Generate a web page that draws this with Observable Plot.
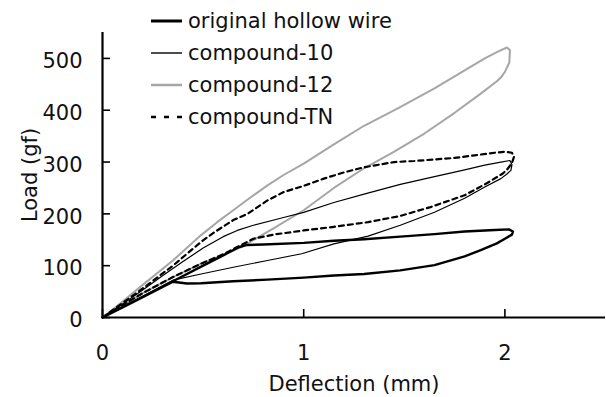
<!DOCTYPE html>
<html><head><meta charset="utf-8">
<script src="https://cdn.jsdelivr.net/npm/d3@7"></script>
<script src="https://cdn.jsdelivr.net/npm/@observablehq/plot@0.6"></script>
<style>
body{margin:0;background:#fff;}
#wrap{position:relative;width:606px;height:397px;font-family:"DejaVu Sans",sans-serif;background:#fff;}
#legend{position:absolute;left:151px;top:5px;}
.row{display:flex;align-items:center;height:32px;}
.row svg{display:block;}
.row span{margin-left:6px;font-size:21px;color:#111;white-space:nowrap;}
</style></head><body>
<div id="wrap"><div id="chart"></div><div id="legend"></div></div>
<script>
const seriesNames = ["original hollow wire", "compound-10", "compound-12", "compound-TN"];
const xTicks = [0, 1, 2];
const yTicks = [0, 100, 200, 300, 400, 500];
const xLabel = "Deflection (mm)";
const yLabel = "Load (gf)";

// loading path followed by unloading path (loop)
const originalX = [0, 0.1, 0.2, 0.35, 0.5, 0.6, 0.68, 0.72, 0.8, 1.0, 1.15, 1.3, 1.48, 1.65, 1.8, 1.95, 2.02, 2.04, 2.035, 2.0, 1.96, 1.88, 1.8, 1.65, 1.48, 1.3, 1.15, 1.0, 0.82, 0.65, 0.49, 0.42, 0.35, 0.2, 0.1, 0];
const originalY = [0, 20, 40, 70, 100, 120, 136, 140, 141, 144, 148, 151, 156, 161, 166, 169, 170, 166, 160, 152, 143, 130, 118, 101, 91, 84, 81, 77, 73, 70, 66, 65.5, 69, 39, 19.5, 0];

const compound10X = [0, 0.1, 0.2, 0.3, 0.4, 0.5, 0.6, 0.67, 0.75, 0.9, 1.0, 1.15, 1.3, 1.48, 1.65, 1.8, 1.9, 1.98, 2.025, 2.035, 2.03, 2.01, 1.98, 1.9, 1.8, 1.65, 1.48, 1.32, 1.15, 0.99, 0.82, 0.65, 0.49, 0.35, 0.2, 0.1, 0];
const compound10Y = [0, 26, 53, 81, 108, 134, 156, 168, 178, 193, 203, 222, 238, 257, 272, 285, 294, 300, 303, 295, 284, 277, 268, 252, 230, 203, 178, 157, 142, 123, 110, 97, 84, 72, 41, 20, 0];

const compound12X = [0, 0.1, 0.2, 0.35, 0.49, 0.57, 0.65, 0.73, 0.82, 0.9, 1.0, 1.15, 1.3, 1.47, 1.65, 1.8, 1.9, 1.965, 2.01, 2.025, 2.022, 2.0, 1.98, 1.96, 1.88, 1.75, 1.6, 1.45, 1.3, 1.15, 1.0, 0.85, 0.7, 0.6, 0.49, 0.35, 0.2, 0.1, 0];
const compound12Y = [0, 31, 63, 110, 159, 184, 207, 230, 255, 275, 297, 334, 370, 404, 442, 477, 500, 513, 521, 516, 492, 474, 463, 456, 432, 395, 355, 320, 288, 250, 207, 172, 138, 121, 104, 78, 47, 23, 0];

const compoundTNX = [0, 0.1, 0.2, 0.35, 0.49, 0.55, 0.65, 0.72, 0.82, 0.9, 1.0, 1.1, 1.2, 1.3, 1.45, 1.55, 1.65, 1.75, 1.85, 1.95, 2.0, 2.035, 2.045, 2.035, 2.01, 1.99, 1.91, 1.8, 1.63, 1.48, 1.32, 1.15, 1.0, 0.85, 0.75, 0.69, 0.6, 0.49, 0.35, 0.2, 0.1, 0];
const compoundTNY = [0, 28, 56, 100, 146, 163, 188, 200, 226, 242, 254, 268, 280, 290, 300, 302, 305, 308, 313, 318, 320, 318, 310, 298, 285, 278, 259, 236, 213, 196, 184, 175, 168, 160, 152, 140, 122, 104, 78, 47, 24, 0];

const styles = [
  {stroke: "#000", width: 2.4, dash: null, legendWidth: 3, legendDash: null},
  {stroke: "#000", width: 1.2, dash: null, legendWidth: 1.4, legendDash: null},
  {stroke: "#a6a6a6", width: 2, dash: null, legendWidth: 2.5, legendDash: null},
  {stroke: "#000", width: 2.2, dash: "5,4", legendWidth: 2.5, legendDash: "5,8"}
];
const seriesData = [
  [originalX, originalY], [compound10X, compound10Y], [compound12X, compound12Y], [compoundTNX, compoundTNY]
].map(([xs, ys]) => xs.map((x, i) => ({x, y: ys[i]})));

const drawOrder = [2, 3, 1, 0];

const W = 606, H = 397, mL = 102, mR = 1, mT = 32, mB = 80, tickLen = 8;
const xDomain = [0, 2.5], yDomain = [0, 550];
const frameW = W - mL - mR, frameH = H - mT - mB;
// tick length expressed in data units (inward ticks)
const xTickLenData = (yDomain[1] - yDomain[0]) / frameH * tickLen;
const yTickLenData = (xDomain[1] - xDomain[0]) / frameW * tickLen;

const chart = Plot.plot({
  width: W, height: H,
  marginLeft: mL, marginRight: mR, marginTop: mT, marginBottom: mB,
  x: {domain: xDomain},
  y: {domain: yDomain},
  style: {fontFamily: "DejaVu Sans", fontSize: "21px", color: "#111", background: "#fff", overflow: "visible"},
  marks: [
    ...drawOrder.map(k => Plot.line(seriesData[k], {x: "x", y: "y", stroke: styles[k].stroke, strokeWidth: styles[k].width, strokeDasharray: styles[k].dash, curve: "linear"})),
    Plot.ruleX(xTicks, {x: d => d, y1: yDomain[0], y2: yDomain[0] + xTickLenData, stroke: "#000", strokeWidth: 1.6}),
    Plot.ruleY(yTicks, {y: d => d, x1: xDomain[0], x2: xDomain[0] + yTickLenData, stroke: "#000", strokeWidth: 1.6}),
    Plot.axisX({ticks: xTicks, tickSize: 0, tickPadding: 28, tickFormat: d => String(d), label: null, fill: "#111"}),
    Plot.axisY({ticks: yTicks, tickSize: 0, tickPadding: 20, tickFormat: d => String(d), dy: 3, label: yLabel, labelAnchor: "center", labelOffset: 80, labelArrow: "none", fill: "#111"}),
    Plot.ruleX([0], {stroke: "#000", strokeWidth: 2.2}),
    Plot.ruleY([0], {stroke: "#000", strokeWidth: 2.2}),
    Plot.text([xLabel], {text: d => d, frameAnchor: "bottom", dy: 73, fontSize: 21, fill: "#111"})
  ]
});
document.getElementById("chart").appendChild(chart);

const legend = document.getElementById("legend");
seriesNames.forEach((name, k) => {
  const row = document.createElement("div");
  row.className = "row";
  const s = styles[k];
  row.innerHTML = `<svg width="31" height="10"><line x1="0" x2="31" y1="5" y2="5" stroke="${s.stroke}" stroke-width="${s.legendWidth}" ${s.legendDash ? `stroke-dasharray="${s.legendDash}"` : ""}/></svg><span></span>`;
  row.querySelector("span").textContent = name;
  legend.appendChild(row);
});
</script>
</body></html>
